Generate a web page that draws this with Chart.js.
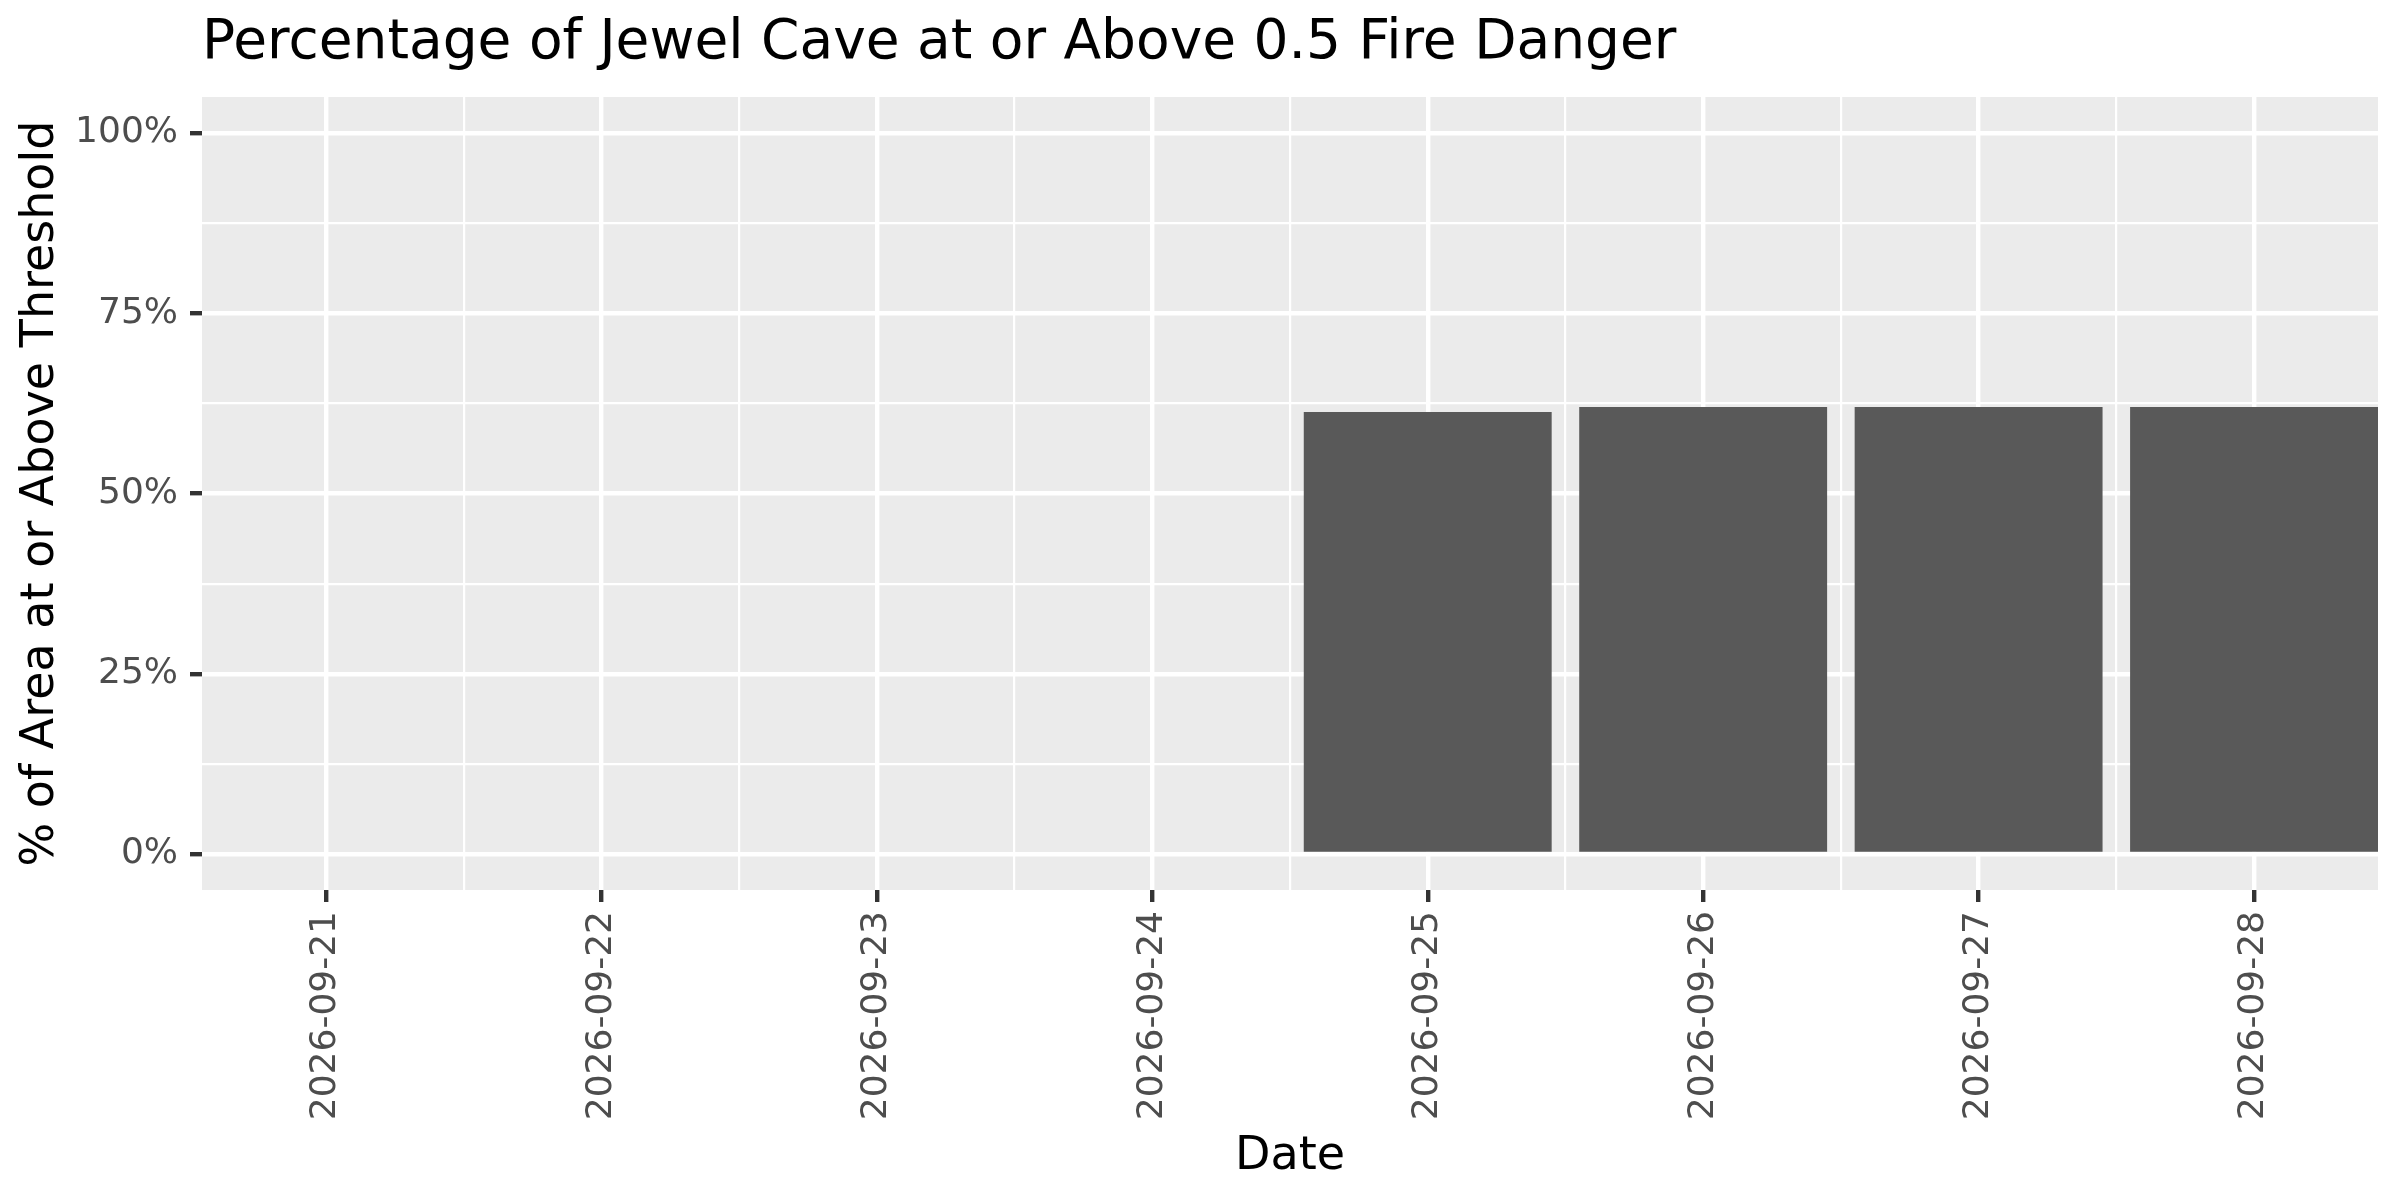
<!DOCTYPE html>
<html>
<head>
<meta charset="utf-8">
<title>Jewel Cave fire danger</title>
<script src="https://cdn.jsdelivr.net/npm/chart.js@4/dist/chart.umd.min.js"></script>
<style>
    html, body { margin: 0; padding: 0; background: #ffffff; }
    canvas { display: block; }
</style>
</head>
<body>
<canvas id="grafPodil" width="2400" height="1200"></canvas>
<script>
// data
const datumy = ['2026-09-21', '2026-09-22', '2026-09-23', '2026-09-24',
                '2026-09-25', '2026-09-26', '2026-09-27', '2026-09-28'];
const podilNadPrahem = [0, 0, 0, 0, 61.3, 62.0, 62.0, 62.0];
const yTicky = [0, 12.5, 25, 37.5, 50, 62.5, 75, 87.5, 100];
const yPopisky = ['0%', '', '25%', '', '50%', '', '75%', '', '100%'];

const pismo = 'DejaVu Sans';
// ticky po pul dni: cele dny nesou popisek, poloviny jen vedlejsi mrizku
const xTicky = [];
for (let i = 0; i <= datumy.length - 1; i += 0.5) xTicky.push(i);

// hlavni (s popiskem) vs. vedlejsi mrizka
const hlavniX = c => !!c.tick && Number.isInteger(c.tick.value);
const hlavniY = c => !!c.tick && c.tick.value % 25 === 0;

// seda plocha panelu jako v ggplot
const pozadiPanelu = {
    id: 'pozadiPanelu',
    beforeDraw(chart) {
        const { ctx, chartArea } = chart;
        ctx.save();
        ctx.fillStyle = '#ffffff';
        ctx.fillRect(0, 0, chart.width, chart.height);
        ctx.fillStyle = '#EBEBEB';
        ctx.fillRect(chartArea.left, chartArea.top,
            chartArea.right - chartArea.left, chartArea.bottom - chartArea.top);
        ctx.restore();
    }
};

const ctx = document.getElementById('grafPodil').getContext('2d');
new Chart(ctx, {
    type: 'bar',
    data: {
        datasets: [{
            label: '% of Area at or Above Threshold',
            data: podilNadPrahem.map((v, i) => ({ x: i, y: v })),
            backgroundColor: '#595959',
            borderWidth: 0,
            // sirka se meri od nejmensi mezery mezi ticky (0.5 dne), takze 2 * 0.9
            barPercentage: 1.8,
            categoryPercentage: 1.0
        }]
    },
    plugins: [pozadiPanelu],
    options: {
        responsive: false,
        animation: false,
        devicePixelRatio: 1,
        layout: { padding: { left: 13, right: 22, top: 0, bottom: 0 } },
        plugins: {
            legend: { display: false },
            tooltip: { enabled: false },
            title: {
                display: true,
                text: 'Percentage of Jewel Cave at or Above 0.5 Fire Danger',
                align: 'start',
                fullSize: false,
                color: '#000000',
                font: { family: pismo, size: 55, weight: 'normal', lineHeight: 1.2 },
                padding: { top: 11, bottom: 20 }
            }
        },
        scales: {
            x: {
                type: 'linear',
                min: -0.45,
                max: 7.45,
                offset: false,
                afterBuildTicks: osa => { osa.ticks = xTicky.map(v => ({ value: v })); },
                afterFit: osa => { osa.height = 310; },
                border: { display: false },
                grid: {
                    offset: false,
                    color: '#ffffff',
                    lineWidth: c => hlavniX(c) ? 4.4 : 2.2,
                    tickColor: c => hlavniX(c) ? '#333333' : 'rgba(0,0,0,0)',
                    tickWidth: 4.4,
                    tickLength: 12
                },
                ticks: {
                    autoSkip: false,
                    maxRotation: 90,
                    minRotation: 90,
                    padding: 9,
                    color: '#4D4D4D',
                    font: { family: pismo, size: 36 },
                    callback: v => Number.isInteger(v) ? datumy[v] : ''
                },
                title: {
                    display: true,
                    text: 'Date',
                    color: '#000000',
                    font: { family: pismo, size: 46, lineHeight: 1.2 },
                    padding: { top: 0, bottom: 15 }
                }
            },
            y: {
                min: -5,
                max: 105,
                afterBuildTicks: osa => { osa.ticks = yTicky.map(v => ({ value: v })); },
                afterFit: osa => { osa.width = 189; },
                border: { display: false },
                grid: {
                    color: '#ffffff',
                    lineWidth: c => hlavniY(c) ? 4.4 : 2.2,
                    tickColor: c => hlavniY(c) ? '#333333' : 'rgba(0,0,0,0)',
                    tickWidth: 4.4,
                    tickLength: 12
                },
                ticks: {
                    padding: 12,
                    color: '#4D4D4D',
                    font: { family: pismo, size: 36 },
                    callback: (v, i) => yPopisky[i]
                },
                title: {
                    display: true,
                    text: '% of Area at or Above Threshold',
                    color: '#000000',
                    font: { family: pismo, size: 46, lineHeight: 1.2 },
                    padding: { top: 0, bottom: 0 }
                }
            }
        }
    }
});
</script>
</body>
</html>
